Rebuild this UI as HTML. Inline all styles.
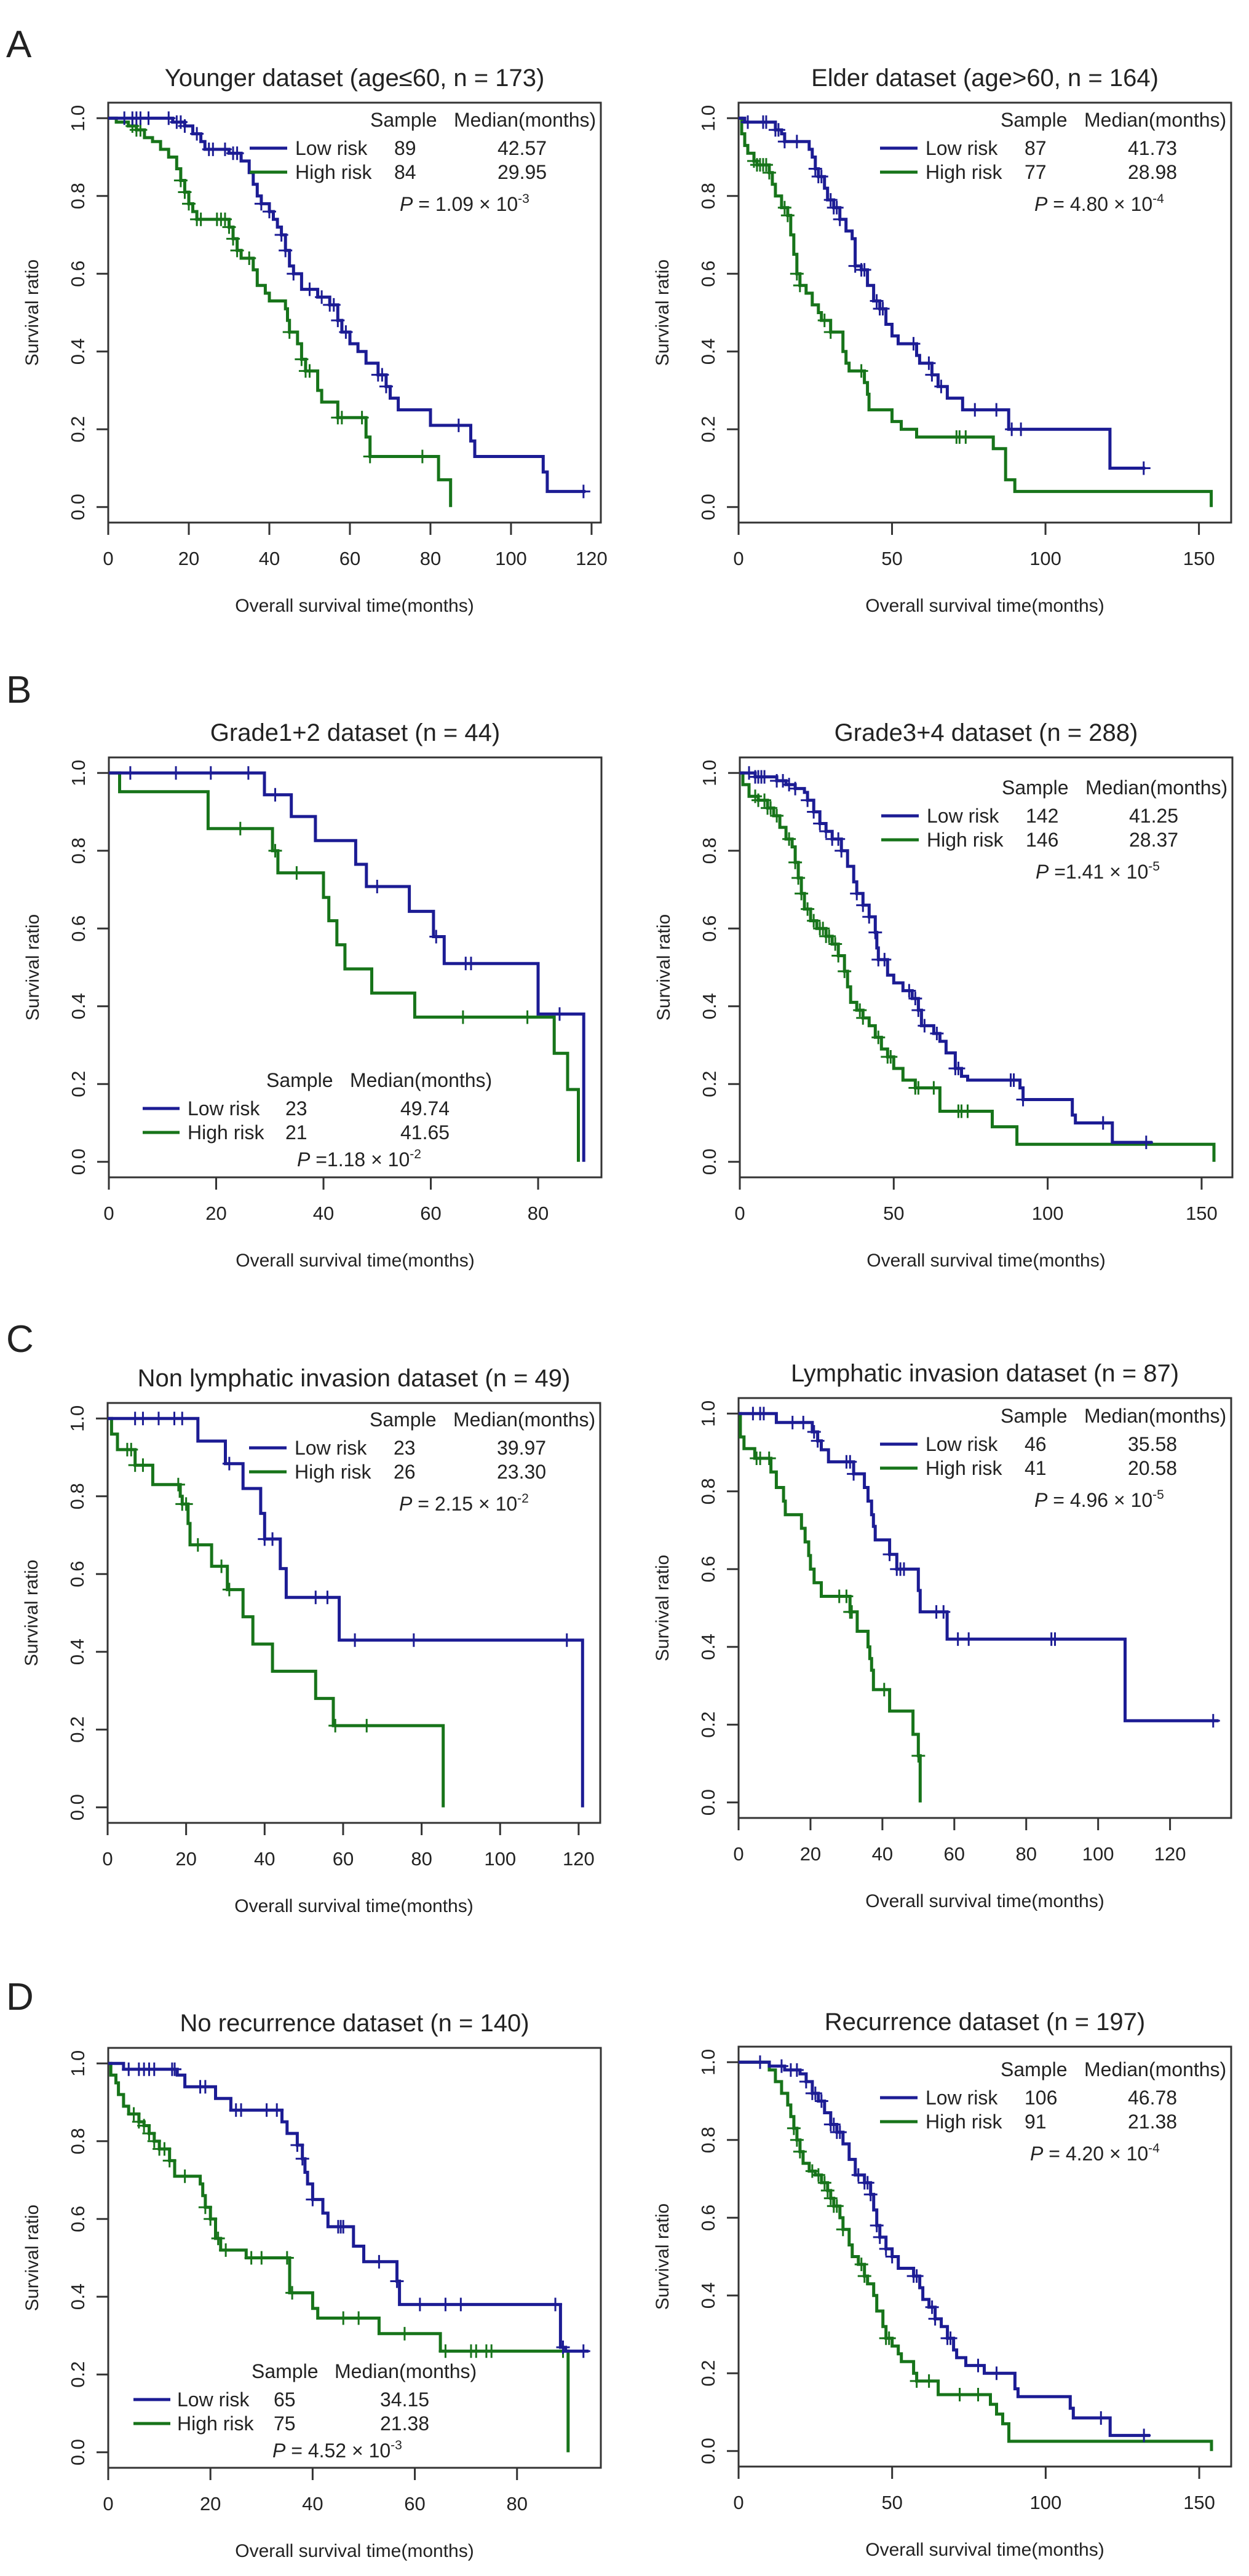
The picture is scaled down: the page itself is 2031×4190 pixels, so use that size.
<!DOCTYPE html>
<html><head><meta charset="utf-8"><title>Kaplan-Meier survival curves</title>
<style>
html,body{margin:0;padding:0;background:#fff;}
svg{display:block;font-family:"Liberation Sans",Arial,sans-serif;}
</style></head>
<body>
<svg id="fig" width="2031" height="4190" viewBox="0 0 2031 4190" xmlns="http://www.w3.org/2000/svg"></svg>
<script>
// ---------- data (drop times / survival after drop / censor times) ----------
const aL_lowT=[16,19,21,23,24,30,33,35,36,37,38,40,41,42,43,44,45,46,48,52,55,57,58,60,62,64,67,69,70,72,80,90,91,108,109];
const aL_lowS=[0.99,0.98,0.96,0.94,0.92,0.91,0.89,0.86,0.83,0.80,0.78,0.76,0.74,0.72,0.70,0.66,0.62,0.60,0.56,0.54,0.52,0.48,0.45,0.42,0.40,0.37,0.34,0.31,0.28,0.25,0.21,0.17,0.13,0.09,0.04];
const aL_lowC=[4,6,7,8,10,15,17,18,19,22,25,26,29,31,32,38,40,43,44,46,50,53,55,56,57,59,67,68,69,87,118];
const aL_lowEnd=118.5;
const aL_highT=[2,5,7,9,11,13,15,17,18,19,20,21,22,30,31,32,33,36,37,39,40,44,44.5,45,47,48,49,52,53,57,64,65,82,85];
const aL_highS=[0.99,0.98,0.97,0.95,0.94,0.92,0.90,0.87,0.84,0.81,0.78,0.76,0.74,0.72,0.69,0.66,0.64,0.61,0.57,0.55,0.53,0.51,0.48,0.45,0.42,0.38,0.35,0.30,0.27,0.23,0.18,0.13,0.07,0.0];
const aL_highC=[6,7,8,18,19,20,22,23,27,28,29,30,31,32,35,45,48,49,50,57,58,63,65,78];
const aL_highEnd=85;

const aR_lowT=[2,12,14,15,23,24,25,26,28,29,31,33,35,37,38,40,42,44,46,48,50,52,58,59,63,65,68,73,88,121];
const aR_lowS=[0.99,0.97,0.96,0.94,0.92,0.90,0.87,0.85,0.82,0.79,0.77,0.74,0.71,0.69,0.62,0.61,0.57,0.53,0.51,0.47,0.44,0.42,0.39,0.37,0.34,0.31,0.28,0.25,0.20,0.10];
const aR_lowC=[3,8,9,12,13,15,19,25,26,27,30,31,32,33,38,40,41,45,46,47,57,62,63,66,77,84,89,92,132];
const aR_lowEnd=132.5;
const aR_highT=[1,2,3,5,6,10,11,12,14,16,17,18,19,20,22,24,26,27,30,34,35,36,41,42,42.5,50,53,58,83,87,90,154];
const aR_highS=[0.96,0.93,0.91,0.89,0.88,0.86,0.83,0.80,0.77,0.75,0.70,0.65,0.60,0.57,0.55,0.52,0.50,0.48,0.45,0.40,0.37,0.35,0.32,0.29,0.25,0.22,0.20,0.18,0.15,0.07,0.04,0.0];
const aR_highC=[5,6,7,8,9,10,15,16,19,20,28,30,40,71,72,74];
const aR_highEnd=154;

const bL_lowT=[29,34,38.5,46,48,56,60.5,62.5,80,88.5];
const bL_lowS=[0.944,0.888,0.826,0.765,0.708,0.644,0.579,0.51,0.38,0.0];
const bL_lowC=[4,12.5,19,26,31,50,61,66.5,67.5,84];
const bL_lowEnd=88.5;
const bL_highT=[2,18.5,30.5,31.5,40,41,42.5,44,49,57,83,85.5,87.5];
const bL_highS=[0.952,0.857,0.80,0.743,0.68,0.62,0.558,0.496,0.434,0.372,0.279,0.186,0.0];
const bL_highC=[24.5,31,35,66,78];
const bL_highEnd=87.5;

const bR_lowT=[5,12,15,18,21,22,24,26,28,30,33,35,37,38,40,42,44,44.5,45,48,50,53,56,58,59,63,65,67,70,72,74,91,92,108,109,121];
const bR_lowS=[0.99,0.98,0.97,0.96,0.95,0.93,0.90,0.87,0.85,0.83,0.80,0.76,0.72,0.69,0.66,0.63,0.59,0.55,0.52,0.48,0.46,0.44,0.42,0.39,0.35,0.33,0.31,0.28,0.24,0.22,0.21,0.19,0.16,0.12,0.10,0.05];
const bR_lowC=[3,5,6,7,8,12,14,16,18,22,24,26,28,30,32,33,38,40,42,44,45,47,55,57,58,60,64,70,71,88,89,92,118,132];
const bR_lowEnd=134;
const bR_highT=[1,3,6,9,11,13,15,17,18,19,20,21,23,25,28,30,32,34,35,36,38,40,42,44,46,48,50,53,57,65,82,90,154];
const bR_highS=[0.97,0.94,0.93,0.91,0.89,0.86,0.83,0.81,0.77,0.73,0.69,0.65,0.62,0.60,0.58,0.56,0.53,0.49,0.45,0.41,0.39,0.37,0.35,0.32,0.29,0.27,0.24,0.21,0.19,0.13,0.09,0.045,0.0];
const bR_highC=[5,6,8,9,10,12,16,18,19,20,22,24,26,27,28,29,31,32,34,39,40,45,48,49,57,58,63,71,72,74];
const bR_highEnd=154;

const cL_lowT=[23,30,34.5,39,40,44,45.5,59,121];
const cL_lowS=[0.942,0.884,0.82,0.756,0.69,0.614,0.54,0.43,0.0];
const cL_lowC=[7,9,13,17,19,31,40,42,53,56,63,78,117];
const cL_lowEnd=121;
const cL_highT=[1,2.5,7,11.5,18.5,19,20.5,21,26.5,30.5,34.5,37,42,53,57.5,85.5];
const cL_highS=[0.96,0.92,0.88,0.83,0.80,0.78,0.73,0.675,0.62,0.56,0.49,0.42,0.35,0.28,0.21,0.0];
const cL_highC=[5,6,7,9,18,19,20,23,29,31,58,66];
const cL_highEnd=85.5;

const cR_lowT=[10.5,20.5,22,23,25,32,35,36,37,37.5,38,42,44,50,50.5,58,107.5];
const cR_lowS=[0.977,0.953,0.93,0.907,0.876,0.845,0.81,0.775,0.74,0.71,0.675,0.638,0.60,0.545,0.49,0.42,0.21];
const cR_lowC=[4,6,7,15,18,21,22,30,31,32,42,44,45,46,55,57,61,64,87,88,132];
const cR_lowEnd=133.5;
const cR_highT=[0.5,1.5,4.5,9,10.5,12.5,13,17.5,18.5,19.5,20,21,23,31,33,36,36.5,37,37.5,42,48.5,50,50.5];
const cR_highS=[0.94,0.91,0.885,0.85,0.81,0.775,0.74,0.705,0.67,0.635,0.60,0.565,0.53,0.49,0.44,0.40,0.37,0.34,0.29,0.235,0.175,0.12,0.0];
const cR_highC=[5,6,8.5,28,30,31,31.5,40.5,50];
const cR_highEnd=50.5;

const dL_lowT=[3,13.5,15,21,24,34,35,37,38,38.5,39,40,42,43,48,50,56.5,57,88.5,89.5];
const dL_lowS=[0.985,0.97,0.94,0.91,0.88,0.85,0.82,0.79,0.755,0.72,0.69,0.65,0.615,0.58,0.53,0.49,0.44,0.38,0.27,0.26];
const dL_lowC=[4,6,7,8,9,12.5,13,18,19,25,26,31,33,37,38,40,45,45.5,46,53,56.5,61,66,69,87.5,89,93];
const dL_lowEnd=94;
const dL_highT=[0.5,1.5,2,3,4,6,7,8,9,10,12,13,18,18.5,19,20,21,22,27,35.5,40,41,53,65,90];
const dL_highS=[0.97,0.95,0.92,0.89,0.87,0.85,0.84,0.82,0.80,0.78,0.75,0.71,0.69,0.66,0.63,0.60,0.55,0.52,0.50,0.41,0.37,0.345,0.305,0.26,0.0];
const dL_highC=[5,6,7,8,9,10,11,12,15,19,20,21.5,23,28,30,35,36,46,49,58,66,71,72,74,75,89];
const dL_highEnd=90;

const dR_lowT=[10,15,20,22,24,26,28,30,32,34,36,38,41,43,44,45,46,48,50,52,57,59,60,62,64,66,68,70,71,74,80,90,91,108,109,121];
const dR_lowS=[0.99,0.98,0.97,0.95,0.92,0.90,0.87,0.84,0.82,0.79,0.75,0.71,0.69,0.66,0.62,0.58,0.55,0.52,0.50,0.47,0.45,0.42,0.39,0.37,0.34,0.32,0.29,0.26,0.24,0.22,0.20,0.16,0.14,0.11,0.085,0.04];
const dR_lowC=[7,14,17,19,22,24,25,27,30,31,32,33,39,41,42,43,45,46,48,50,57,58,63,64,68,69,78,84,118,132];
const dR_lowEnd=134;
const dR_highT=[10,12,14,16,17,18,19,20,21,23,25,27,29,30,31,33,34,36,37,39,41,42,44,45,47,48,50,52,53,57,58,65,82,84,86,88,154];
const dR_highS=[0.98,0.95,0.92,0.89,0.86,0.83,0.80,0.77,0.74,0.72,0.71,0.69,0.67,0.65,0.63,0.60,0.57,0.53,0.50,0.48,0.45,0.43,0.40,0.36,0.32,0.29,0.27,0.25,0.23,0.20,0.18,0.145,0.12,0.095,0.07,0.025,0.0];
const dR_highC=[18,19,20,24,26,28,29,30,31,32,34,40,41,48,49,58,62,72,78];
const dR_highEnd=154;

const yTicks=[0,0.2,0.4,0.6,0.8,1.0];
const yTickLabels=["0.0","0.2","0.4","0.6","0.8","1.0"];

// ---------- layout ----------
const NS="http://www.w3.org/2000/svg";
const svg=document.getElementById('fig');
const BLUE="#1c1c94", GREEN="#17741a", INK="#222";
const PW=801, PH=683;

function el(tag,attrs,parent){const e=document.createElementNS(NS,tag);for(const k in attrs)e.setAttribute(k,attrs[k]);(parent||svg).appendChild(e);return e;}

const panels=[
 {id:'younger',L:176,T:167,xmax:122.3,xt:[0,20,40,60,80,100,120],title:"Younger dataset (age\u226460, n = 173)",
  low:[aL_lowT,aL_lowS,aL_lowC,aL_lowEnd],high:[aL_highT,aL_highS,aL_highC,aL_highEnd],
  leg:{top:true,h:28,n:["89","84"],m:["42.57","29.95"],p:"1.09",e:"-3",px:474}},
 {id:'elder',L:1201,T:167,xmax:160.5,xt:[0,50,100,150],title:"Elder dataset (age>60, n = 164)",
  low:[aR_lowT,aR_lowS,aR_lowC,aR_lowEnd],high:[aR_highT,aR_highS,aR_highC,aR_highEnd],
  leg:{top:true,h:28,n:["87","77"],m:["41.73","28.98"],p:"4.80",e:"-4",px:481}},
 {id:'grade12',L:177,T:1232,xmax:91.8,xt:[0,20,40,60,80],title:"Grade1+2 dataset (n = 44)",
  low:[bL_lowT,bL_lowS,bL_lowC,bL_lowEnd],high:[bL_highT,bL_highS,bL_highC,bL_highEnd],
  leg:{top:false,h:525,line:55,lab:128,sx:256,mx:392,nx:287,medx:474,px:306,n:["23","21"],m:["49.74","41.65"],p:"1.18",e:"-2",tight:true}},
 {id:'grade34',L:1203,T:1232,xmax:160,xt:[0,50,100,150],title:"Grade3+4 dataset (n = 288)",
  low:[bR_lowT,bR_lowS,bR_lowC,bR_lowEnd],high:[bR_highT,bR_highS,bR_highC,bR_highEnd],
  leg:{top:true,h:49,n:["142","146"],m:["41.25","28.37"],p:"1.41",e:"-5",px:481,tight:true}},
 {id:'nonlymph',L:175,T:2282,xmax:125.5,xt:[0,20,40,60,80,100,120],title:"Non lymphatic invasion dataset (n = 49)",
  low:[cL_lowT,cL_lowS,cL_lowC,cL_lowEnd],high:[cL_highT,cL_highS,cL_highC,cL_highEnd],
  leg:{top:true,h:27,n:["23","26"],m:["39.97","23.30"],p:"2.15",e:"-2",px:474}},
 {id:'lymph',L:1201,T:2274,xmax:137,xt:[0,20,40,60,80,100,120],title:"Lymphatic invasion dataset (n = 87)",
  low:[cR_lowT,cR_lowS,cR_lowC,cR_lowEnd],high:[cR_highT,cR_highS,cR_highC,cR_highEnd],
  leg:{top:true,h:29,n:["46","41"],m:["35.58","20.58"],p:"4.96",e:"-5",px:481}},
 {id:'norecur',L:176,T:3331,xmax:96.4,xt:[0,20,40,60,80],title:"No recurrence dataset (n = 140)",
  low:[dL_lowT,dL_lowS,dL_lowC,dL_lowEnd],high:[dL_highT,dL_highS,dL_highC,dL_highEnd],
  leg:{top:false,h:526,line:41,lab:112,sx:233,mx:368,nx:269,medx:442,px:267,n:["65","75"],m:["34.15","21.38"],p:"4.52",e:"-3"}},
 {id:'recur',L:1201,T:3329,xmax:160.4,xt:[0,50,100,150],title:"Recurrence dataset (n = 197)",
  low:[dR_lowT,dR_lowS,dR_lowC,dR_lowEnd],high:[dR_highT,dR_highS,dR_highC,dR_highEnd],
  leg:{top:true,h:37,n:["106","91"],m:["46.78","21.38"],p:"4.20",e:"-4",px:474}}
];

const letters=[["A",71],["B",1121],["C",2177],["D",3247]];
letters.forEach(([t,y])=>{
  const e=el('text',{x:10,y:y+22,'font-size':62,fill:INK});
  e.textContent=t;
  
  
});

function levelAt(T,S,c){let s=1;for(let i=0;i<T.length;i++){if(T[i]<=c)s=S[i];else break;}return s;}

panels.forEach(p=>{
  const g=el('g',{});
  
  
  const sx=t=>p.L+t*PW/p.xmax;
  const y0=p.T+PH-0.04*PH/1.08, y1=p.T+0.04*PH/1.08;
  const sy=s=>y0-(y0-y1)*s;
  const B=p.T+PH;
  const ti=el('text',{x:p.L+PW/2,y:p.T-41+14,'font-size':40,'text-anchor':'middle',fill:INK},g);
  ti.textContent=p.title;
  
  
  const bx=el('rect',{x:p.L,y:p.T,width:PW,height:PH,fill:'none',stroke:'#333','stroke-width':3},g);
  
  
  p.xt.forEach(v=>{
    const tk=el('line',{x1:sx(v),x2:sx(v),y1:B,y2:B+20,stroke:'#333','stroke-width':3},g);
    
    
    const tl=el('text',{x:sx(v),y:B+69,'font-size':31,'text-anchor':'middle',fill:INK},g);
    tl.textContent=String(v);
    
    
  });
  yTicks.forEach((v,i)=>{
    const tk=el('line',{x1:p.L-19,x2:p.L,y1:sy(v),y2:sy(v),stroke:'#333','stroke-width':3},g);
    
    
    const lx=p.L-39, ly=sy(v);
    const tl=el('text',{x:lx,y:ly,'font-size':31,'text-anchor':'middle',fill:INK,transform:`rotate(-90 ${lx} ${ly})`},g);
    tl.textContent=yTickLabels[i];
    
    
  });
  const ax=el('text',{x:p.L+PW/2,y:B+145,'font-size':30,'text-anchor':'middle',fill:INK},g);
  ax.textContent="Overall survival time(months)";
  
  
  const yx=p.L-114, yy=p.T+PH/2;
  const ay=el('text',{x:yx,y:yy,'font-size':30,'text-anchor':'middle',fill:INK,transform:`rotate(-90 ${yx} ${yy})`},g);
  ay.textContent="Survival ratio";
  
  
  [['high',p.high,GREEN],['low',p.low,BLUE]].forEach(([nm,[T,S,C,end],col])=>{
    let d=`M${sx(0)},${sy(1)}`;
    for(let i=0;i<T.length;i++){d+=` H${sx(T[i]).toFixed(1)} V${sy(S[i]).toFixed(1)}`;}
    d+=` H${sx(end).toFixed(1)}`;
    const path=el('path',{d:d,fill:'none',stroke:col,'stroke-width':5},g);
    
    
    C.forEach(c=>{
      const cx=sx(c), cy=sy(levelAt(T,S,c));
      const m=el('path',{d:`M${cx-11},${cy} H${cx+11} M${cx},${cy-11} V${cy+11}`,stroke:col,'stroke-width':3,fill:'none'},g);
      
      
    });
  });
  const lg=p.leg;
  const o=lg.top?{line:230,lineEnd:291,lab:304,sx:426,mx:562,nx:465,medx:633}:
    {line:lg.line,lineEnd:lg.line+60,lab:lg.lab,sx:lg.sx,mx:lg.mx,nx:lg.nx,medx:lg.medx};
  const H=p.T+lg.h;
  const lgG=el('g',{},g);
  
  
  const t1=el('text',{x:p.L+o.sx,y:H+11,'font-size':32,fill:INK},lgG);t1.textContent="Sample";
  
  
  const t2=el('text',{x:p.L+o.mx,y:H+11,'font-size':32,fill:INK},lgG);t2.textContent="Median(months)";
  
  
  [["Low risk",BLUE],["High risk",GREEN]].forEach(([lab,col],i)=>{
    const ry=H+46+i*39;
    const ln=el('line',{x1:p.L+o.line,x2:p.L+o.lineEnd,y1:ry,y2:ry,stroke:col,'stroke-width':5},lgG);
    
    
    const a=el('text',{x:p.L+o.lab,y:ry+11,'font-size':32,fill:INK},lgG);a.textContent=lab;
    
    
    const b=el('text',{x:p.L+o.nx,y:ry+11,'font-size':32,fill:INK},lgG);b.textContent=lg.n[i];
    
    
    const c=el('text',{x:p.L+o.medx,y:ry+11,'font-size':32,fill:INK},lgG);c.textContent=lg.m[i];
    
    
  });
  const py=H+(lg.top?137:129)+11;
  const pt=el('text',{x:p.L+lg.px,y:py,'font-size':32,fill:INK},lgG);
  
  
  const s1=el('tspan',{'font-style':'italic'},pt);s1.textContent="P";
  const s2=el('tspan',{},pt);s2.textContent=(lg.tight?" =":" = ")+lg.p+" \u00d7 10";
  const s3=el('tspan',{'font-size':21,dy:-13},pt);s3.textContent=lg.e;
});
</script>
</body></html>
